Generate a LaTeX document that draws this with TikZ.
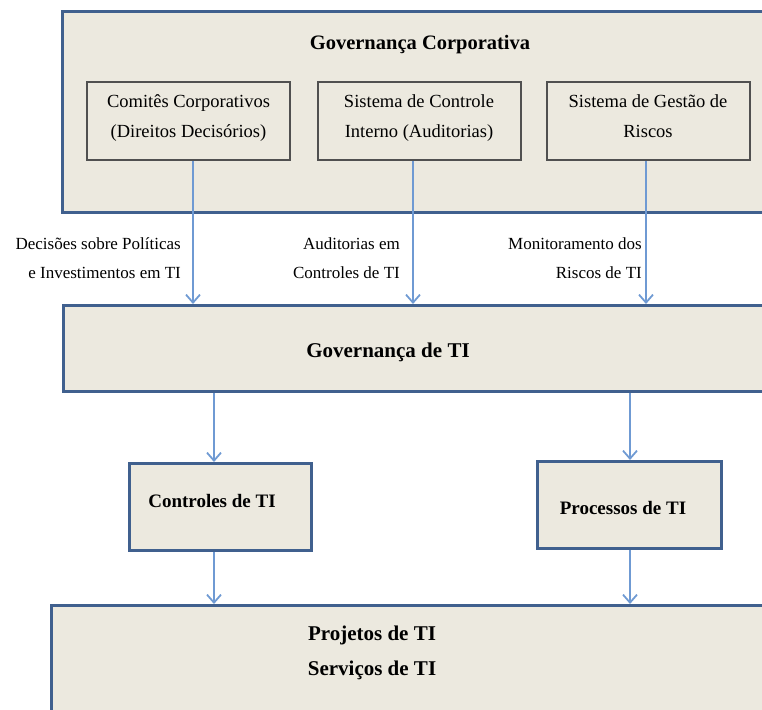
\documentclass[tikz,border=0pt]{standalone}
\usepackage{fontspec}
\setmainfont{Liberation Serif}
\usetikzlibrary{arrows.meta}
\definecolor{boxfill}{HTML}{ECE9DF}
\definecolor{boxedge}{HTML}{40608E}
\definecolor{inedge}{HTML}{505050}
\definecolor{arrowc}{HTML}{6F9AD3}
\begin{document}
\begin{tikzpicture}[x=1pt,y=-1pt,
  bigbox/.style={draw=boxedge,fill=boxfill,line width=3pt,rectangle,inner sep=0pt},
  inbox/.style={draw=inedge,fill=boxfill,line width=2pt,rectangle,inner sep=0pt,
     minimum width=203pt,minimum height=78pt},
  intxt/.style={anchor=base,inner sep=0pt,font=\fontsize{18.5}{30}\selectfont},
  lbl/.style={anchor=base east,inner sep=0pt,font=\fontsize{17}{29}\selectfont},
  ttl/.style={inner sep=0pt,align=center,anchor=base},
  arr/.style={draw=arrowc,line width=1.8pt,-{Straight Barb[length=8pt,width=14pt]}}]
\useasboundingbox (0,0) rectangle (762,709);
\clip (0,0) rectangle (762,709);
% top box
\node[bigbox,minimum width=720pt,minimum height=201pt,anchor=north west] (gc) at (61,10) {};
\node[ttl,font=\fontsize{20.5}{35}\bfseries\selectfont] (gct) at (420,49) {Governança Corporativa};
\node[inbox] (c1) at (188.5,121) {};
\node[inbox] (c2) at (419,121) {};
\node[inbox] (c3) at (648,121) {};
\node[intxt] (c1a) at (188.5,107) {Comitês Corporativos};
\node[intxt] (c1b) at (188.5,137) {(Direitos Decisórios)};
\node[intxt] (c2a) at (419,107) {Sistema de Controle};
\node[intxt] (c2b) at (419,137) {Interno (Auditorias)};
\node[intxt] (c3a) at (648,107) {Sistema de Gestão de};
\node[intxt] (c3b) at (648,137) {Riscos};
% gov TI
\node[bigbox,minimum width=720pt,minimum height=86pt,anchor=north west] (gti) at (62,304) {};
\node[ttl,font=\fontsize{21}{35}\bfseries\selectfont] (gtit) at (388,357) {Governança de TI};
% controles / processos
\node[bigbox,minimum width=182pt,minimum height=87pt,anchor=north west] (ctl) at (128,462) {};
\node[ttl,font=\fontsize{19}{35}\bfseries\selectfont] (ctlt) at (212,507) {Controles de TI};
\node[bigbox,minimum width=184pt,minimum height=87pt,anchor=north west] (prc) at (536,460) {};
\node[ttl,font=\fontsize{19}{35}\bfseries\selectfont] (prct) at (623,514) {Processos de TI};
% bottom
\node[bigbox,minimum width=740pt,minimum height=150pt,anchor=north west] (pj) at (50,604) {};
\node[ttl,font=\fontsize{21}{35}\bfseries\selectfont] (pjt) at (372,640) {Projetos de TI};
\node[ttl,font=\fontsize{21}{35}\bfseries\selectfont] (svt) at (372,675) {Serviços de TI};
% labels
\node[lbl] (l1a) at (181,249) {Decisões sobre Políticas};
\node[lbl] (l1b) at (181,278) {e Investimentos em TI};
\node[lbl] (l2a) at (400,249) {Auditorias em};
\node[lbl] (l2b) at (400,278) {Controles de TI};
\node[lbl] (l3a) at (642,249) {Monitoramento dos};
\node[lbl] (l3b) at (642,278) {Riscos de TI};
% arrows
\draw[arr] ([xshift=4.5pt]c1.south) -- ([xshift=4.5pt]c1.south |- gti.north);
\draw[arr] ([xshift=-6pt]c2.south) -- ([xshift=-6pt]c2.south |- gti.north);
\draw[arr] ([xshift=-2pt]c3.south) -- ([xshift=-2pt]c3.south |- gti.north);
\draw[arr] ([xshift=-6.5pt]ctl.north |- gti.south) -- ([xshift=-6.5pt]ctl.north);
\draw[arr] ([xshift=0.5pt]prc.north |- gti.south) -- ([xshift=0.5pt]prc.north);
\draw[arr] ([xshift=-6.5pt]ctl.south) -- ([xshift=-6.5pt]ctl.south |- pj.north);
\draw[arr] ([xshift=0.5pt]prc.south) -- ([xshift=0.5pt]prc.south |- pj.north);
\end{tikzpicture}
\end{document}
